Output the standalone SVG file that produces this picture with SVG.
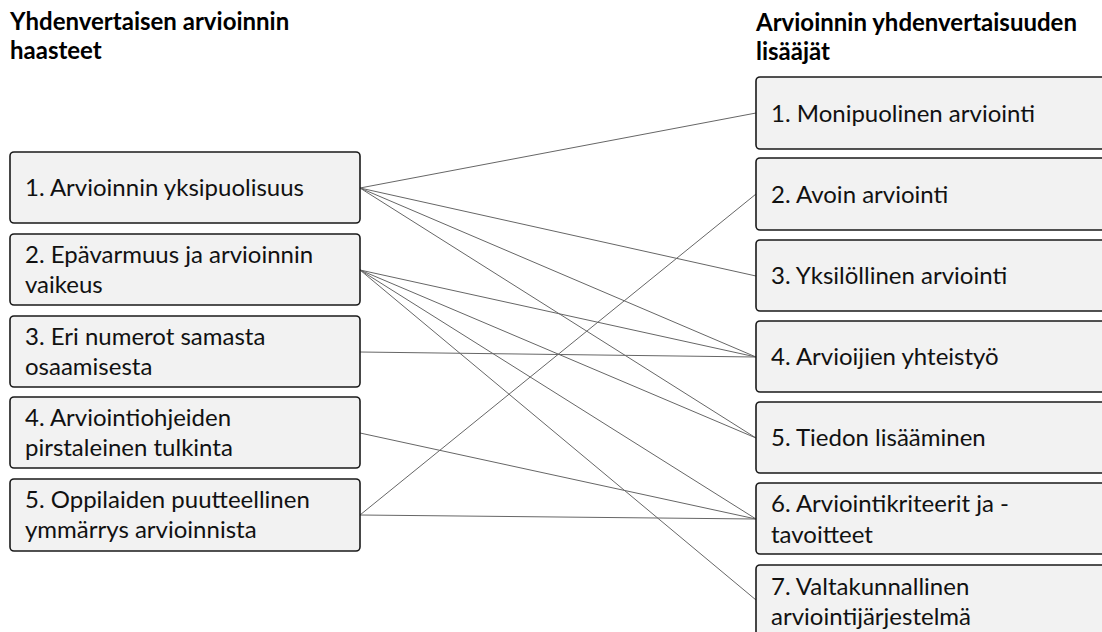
<svg xmlns="http://www.w3.org/2000/svg" width="1102" height="632" viewBox="0 0 1102 632">
  <style>
    .bg { fill: #ffffff; }
    .box { fill: #f2f2f2; stroke: #1a1a1a; stroke-width: 1.6; }
    .lbl { font-family: Lato, "Liberation Sans", sans-serif; font-size: 24px; fill: #111111; }
    .hdr { font-family: Lato, "Liberation Sans", sans-serif; font-size: 24px; font-weight: bold; fill: #000000; }
    .link { stroke: #666666; stroke-width: 1; fill: none; }
  </style>
  <rect class="bg" x="0" y="0" width="1102" height="632"/>

  <!-- column headings -->
  <g id="heading-left">
    <text class="hdr" x="10" y="30">Yhdenvertaisen arvioinnin</text>
    <text class="hdr" x="10" y="59">haasteet</text>
  </g>
  <g id="heading-right">
    <text class="hdr" x="756" y="31">Arvioinnin yhdenvertaisuuden</text>
    <text class="hdr" x="756" y="60">lisääjät</text>
  </g>

  <!-- connectors: challenge (left) to remedy (right) -->
  <g id="connectors">
    <line class="link" x1="360" y1="188" x2="756" y2="113"/>
    <line class="link" x1="360" y1="188" x2="756" y2="276"/>
    <line class="link" x1="360" y1="188" x2="756" y2="357"/>
    <line class="link" x1="360" y1="188" x2="756" y2="438"/>
    <line class="link" x1="360" y1="270" x2="756" y2="357"/>
    <line class="link" x1="360" y1="270" x2="756" y2="438"/>
    <line class="link" x1="360" y1="270" x2="756" y2="519"/>
    <line class="link" x1="360" y1="270" x2="756" y2="600"/>
    <line class="link" x1="360" y1="352" x2="756" y2="357"/>
    <line class="link" x1="360" y1="433" x2="756" y2="519"/>
    <line class="link" x1="360" y1="515" x2="756" y2="194"/>
    <line class="link" x1="360" y1="515" x2="756" y2="519"/>
  </g>

  <!-- challenges -->
  <g id="challenge-1">
    <rect class="box" x="10" y="152" width="350" height="71" rx="4"/>
    <text class="lbl" x="25" y="196">1. Arvioinnin yksipuolisuus</text>
  </g>
  <g id="challenge-2">
    <rect class="box" x="10" y="234" width="350" height="71" rx="4"/>
    <text class="lbl" x="25" y="263">2. Epävarmuus ja arvioinnin</text>
    <text class="lbl" x="25" y="293">vaikeus</text>
  </g>
  <g id="challenge-3">
    <rect class="box" x="10" y="316" width="350" height="71" rx="4"/>
    <text class="lbl" x="25" y="345">3. Eri numerot samasta</text>
    <text class="lbl" x="25" y="375">osaamisesta</text>
  </g>
  <g id="challenge-4">
    <rect class="box" x="10" y="397" width="350" height="71" rx="4"/>
    <text class="lbl" x="25" y="426">4. Arviointiohjeiden</text>
    <text class="lbl" x="25" y="456">pirstaleinen tulkinta</text>
  </g>
  <g id="challenge-5">
    <rect class="box" x="10" y="479" width="350" height="72" rx="4"/>
    <text class="lbl" x="25" y="508">5. Oppilaiden puutteellinen</text>
    <text class="lbl" x="25" y="538">ymmärrys arvioinnista</text>
  </g>

  <!-- remedies (boxes run past the right edge) -->
  <g id="remedy-1">
    <rect class="box" x="756" y="77" width="360" height="72" rx="4"/>
    <text class="lbl" x="771" y="122">1. Monipuolinen arviointi</text>
  </g>
  <g id="remedy-2">
    <rect class="box" x="756" y="158" width="360" height="72" rx="4"/>
    <text class="lbl" x="771" y="203">2. Avoin arviointi</text>
  </g>
  <g id="remedy-3">
    <rect class="box" x="756" y="240" width="360" height="71" rx="4"/>
    <text class="lbl" x="771" y="284">3. Yksilöllinen arviointi</text>
  </g>
  <g id="remedy-4">
    <rect class="box" x="756" y="321" width="360" height="71" rx="4"/>
    <text class="lbl" x="771" y="365">4. Arvioijien yhteistyö</text>
  </g>
  <g id="remedy-5">
    <rect class="box" x="756" y="402" width="360" height="71" rx="4"/>
    <text class="lbl" x="771" y="446">5. Tiedon lisääminen</text>
  </g>
  <g id="remedy-6">
    <rect class="box" x="756" y="483" width="360" height="71" rx="4"/>
    <text class="lbl" x="771" y="512">6. Arviointikriteerit ja -</text>
    <text class="lbl" x="771" y="543">tavoitteet</text>
  </g>
  <g id="remedy-7">
    <rect class="box" x="756" y="565" width="360" height="71" rx="4"/>
    <text class="lbl" x="771" y="595">7. Valtakunnallinen</text>
    <text class="lbl" x="771" y="625">arviointijärjestelmä</text>
  </g>
</svg>
